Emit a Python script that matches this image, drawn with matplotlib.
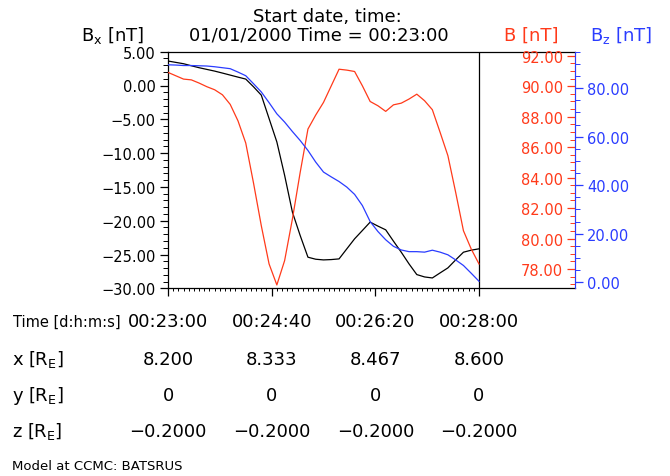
import matplotlib
matplotlib.use('Agg')
import matplotlib.pyplot as plt
from matplotlib.ticker import FixedLocator, MultipleLocator, FuncFormatter
from matplotlib import transforms

W, H = 670, 477
RED = '#ff3a1a'
BLUE = '#2a3cff'

# sample times in seconds after 00:23:00
seconds = [0, 7.5, 15, 22.5, 30, 37.5, 45, 52.5, 60, 67.5,
           75, 82.5, 90, 97.5, 105, 112.5, 120, 127.5, 135, 142.5,
           150, 157.5, 165, 172.5, 180, 187.5, 195, 202.5, 210, 217.5,
           225, 232.5, 240, 247.5, 255, 262.5, 270, 277.5, 285, 292.5, 300]

bx = [3.62, 3.42, 3.22, 2.92, 2.63, 2.38, 2.13, 1.84, 1.54, 1.24,
      0.95, -0.19, -1.43, -4.89, -8.35, -13.29, -18.73, -22.19, -25.40, -25.70,
      -25.80, -25.75, -25.65, -24.16, -22.68, -21.45, -20.21, -20.80, -21.35, -23.03,
      -24.66, -26.39, -27.97, -28.32, -28.47, -27.72, -26.98, -25.80, -24.66, -24.36, -24.16]

b_total = [90.91, 90.69, 90.47, 90.42, 90.21, 89.97, 89.77, 89.44, 88.81, 87.73,
           86.27, 83.64, 80.84, 78.33, 76.95, 78.55, 81.28, 84.34, 87.19, 88.11,
           88.94, 90.03, 91.12, 91.06, 90.97, 90.03, 89.00, 88.72, 88.35, 88.78,
           88.89, 89.16, 89.48, 89.05, 88.46, 86.97, 85.44, 83.03, 80.51, 79.31, 78.33]

bz = [89.6, 89.5, 89.3, 89.3, 89.2, 89.1, 88.8, 88.4, 88.0, 86.6,
      85.1, 81.8, 78.4, 74.0, 69.4, 66.0, 62.1, 58.4, 54.3, 49.5,
      45.4, 43.4, 41.5, 39.2, 36.2, 31.6, 25.0, 20.9, 17.5, 14.8,
      13.3, 12.6, 12.6, 12.4, 13.2, 12.4, 11.3, 9.2, 6.9, 3.7, 0.4]

tick_seconds = [0, 100, 200, 300]
time_labels = ['00:23:00', '00:24:40', '00:26:20', '00:28:00']
x_re = ['8.200', '8.333', '8.467', '8.600']
y_re = ['0', '0', '0', '0']
z_re = ['\u22120.2000', '\u22120.2000', '\u22120.2000', '\u22120.2000']


def fx(x):
    return x / W


def fy(y):
    return 1 - y / H


def fmt2(v, pos):
    return f'{v:.2f}'.replace('-', '\u2212')


fig = plt.figure(figsize=(W / 100, H / 100), dpi=100)

left, right, top, bottom = 168, 575, 52.7, 289.3
ax = fig.add_axes([fx(left), fy(bottom), (right - left) / W, (bottom - top) / H])
ax.set_xlim(0, 300 * (right - left) / (479 - left))
ax.set_ylim(-30, 5)
ax.plot(seconds, bx, color='black', lw=0.9)
ax.axvline(300, color='black', lw=0.9)
ax.spines['right'].set_visible(False)
for s in ['left', 'top', 'bottom']:
    ax.spines[s].set_linewidth(0.9)

ax.xaxis.set_major_locator(FixedLocator(tick_seconds))
ax.xaxis.set_minor_locator(FixedLocator([s for s in range(0, 301, 5)]))
ax.tick_params(axis='x', which='major', direction='out', length=5.8, width=0.9, labelbottom=False)
ax.tick_params(axis='x', which='minor', direction='out', length=2.2, width=0.7)
ax.yaxis.set_major_locator(MultipleLocator(5))
ax.yaxis.set_minor_locator(MultipleLocator(1))
ax.yaxis.set_major_formatter(FuncFormatter(fmt2))
ax.tick_params(axis='y', which='major', direction='out', length=5.8, width=0.9, labelsize=10.5, pad=3)
ax.tick_params(axis='y', which='minor', direction='out', length=3.5, width=0.7)

# B on an axis whose ticks and labels sit left of the right spine
axb = ax.twinx()
axb.plot(seconds, b_total, color=RED, lw=0.9)
axb.set_ylim(76.73, 92.27)
axb.yaxis.set_ticks_position('left')
axb.spines['left'].set_position(('axes', 1.0))
axb.spines['left'].set_color(RED)
for s in ['right', 'top', 'bottom']:
    axb.spines[s].set_visible(False)
axb.yaxis.set_major_locator(MultipleLocator(2))
axb.yaxis.set_minor_locator(MultipleLocator(0.5))
axb.yaxis.set_major_formatter(FuncFormatter(fmt2))
axb.tick_params(axis='y', which='major', direction='out', length=5.8, width=0.9,
                colors=RED, labelsize=10.5, pad=3)
axb.tick_params(axis='y', which='minor', direction='out', length=3.5, width=0.7, colors=RED)

# Bz on the outer side of the same spine
axz = ax.twinx()
axz.plot(seconds, bz, color=BLUE, lw=0.9)
axz.set_ylim(-2.5, 95)
axz.spines['right'].set_color(BLUE)
for s in ['left', 'top', 'bottom']:
    axz.spines[s].set_visible(False)
axz.yaxis.set_major_locator(MultipleLocator(20))
axz.yaxis.set_minor_locator(MultipleLocator(5))
axz.yaxis.set_major_formatter(FuncFormatter(fmt2))
axz.tick_params(axis='y', which='major', direction='out', length=5.8, width=0.9,
                colors=BLUE, labelsize=10.5, pad=3)
axz.tick_params(axis='y', which='minor', direction='out', length=3.5, width=0.7, colors=BLUE)

# header texts
fig.text(fx(327), fy(17), 'Start date, time:', ha='center', va='center', fontsize=13)
fig.text(fx(319), fy(36), '01/01/2000 Time = 00:23:00', ha='center', va='center', fontsize=13)
fig.text(fx(113), fy(36), 'B$_\\mathrm{x}$ [nT]', ha='center', va='center', fontsize=13)
fig.text(fx(531), fy(36), 'B [nT]', ha='center', va='center', fontsize=13, color=RED)
fig.text(fx(621), fy(36), 'B$_\\mathrm{z}$ [nT]', ha='center', va='center', fontsize=13, color=BLUE)

# table below the axis, columns aligned with the time ticks
tr = transforms.blended_transform_factory(ax.transData, fig.transFigure)
rows = [(322, time_labels), (360, x_re), (396, y_re), (432, z_re)]
for ypix, vals in rows:
    for t, v in zip(tick_seconds, vals):
        fig.text(t, fy(ypix), v, transform=tr, ha='center', va='center', fontsize=13)

fig.text(fx(13), fy(322), 'Time [d:h:m:s]', ha='left', va='center', fontsize=10.5)
fig.text(fx(12), fy(360), 'x [R$_\\mathrm{E}$]', ha='left', va='center', fontsize=13)
fig.text(fx(12), fy(396), 'y [R$_\\mathrm{E}$]', ha='left', va='center', fontsize=13)
fig.text(fx(12), fy(432), 'z [R$_\\mathrm{E}$]', ha='left', va='center', fontsize=13)
fig.text(fx(12), fy(467), 'Model at CCMC: BATSRUS', ha='left', va='center', fontsize=9.5)

fig.savefig('out.png', dpi=100)
